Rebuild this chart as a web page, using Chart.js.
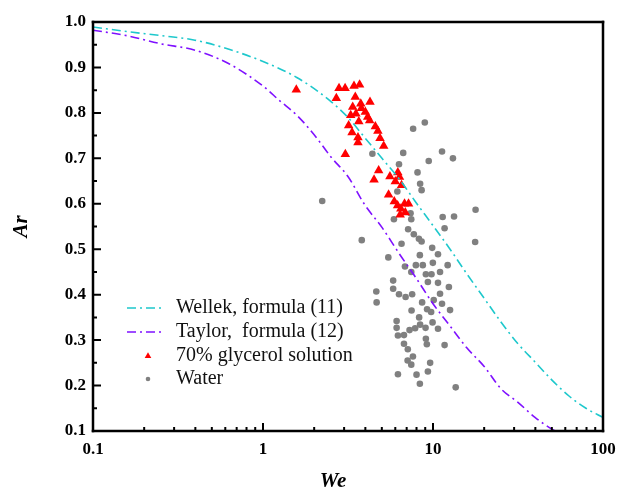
<!DOCTYPE html>
<html>
<head>
<meta charset="utf-8">
<script src="https://cdn.jsdelivr.net/npm/chart.js@4.4.1/dist/chart.umd.min.js"></script>
<style>
  html, body { margin: 0; padding: 0; background: #fff; overflow: hidden; }
  canvas { display: block; }
</style>
</head>
<body>
<canvas id="MyChart1" width="617" height="492"></canvas>
<script>
// tick labels
var xTicks = [0.1, 1, 10, 100];
var yTicks = [0.1, 0.2, 0.3, 0.4, 0.5, 0.6, 0.7, 0.8, 0.9, 1.0];

// Wellek, formula (11)
var wellekWe = [0.1, 0.158, 0.251, 0.398, 0.631, 1, 1.58, 2.51, 3.16, 3.98, 5.01, 6.31, 7.94, 10, 12.6, 15.8, 20.0, 25.1, 31.6, 39.8, 50.1, 63.1, 79.4, 100];
var wellekAr = [0.989, 0.979, 0.970, 0.960, 0.940, 0.913, 0.878, 0.825, 0.790, 0.745, 0.700, 0.655, 0.603, 0.552, 0.500, 0.446, 0.392, 0.340, 0.292, 0.252, 0.212, 0.177, 0.150, 0.130];

// Taylor, formula (12)
var taylorWe = [0.1, 0.158, 0.251, 0.398, 0.631, 1, 1.26, 1.58, 2.0, 2.51, 3.16, 3.98, 5.01, 6.31, 7.94, 10, 12.6, 15.8, 20.0, 25.1, 31.6, 39.8, 50.1, 52.5];
var taylorAr = [0.982, 0.970, 0.952, 0.938, 0.908, 0.859, 0.826, 0.795, 0.752, 0.703, 0.660, 0.597, 0.548, 0.491, 0.437, 0.380, 0.331, 0.283, 0.242, 0.193, 0.163, 0.130, 0.104, 0.100];

// 70% glycerol solution
var glycerolWe = [1.57, 2.70, 2.80, 3.04, 3.43, 3.70, 3.49, 4.26, 3.76, 3.37, 3.79, 4.00, 3.52, 3.28, 4.13, 3.66, 4.24, 3.19, 4.58, 3.34,
                  4.74, 3.62, 4.88, 3.62, 5.13, 3.05, 4.79, 4.50, 5.58, 6.21, 6.35, 6.00, 6.53, 5.48, 5.92, 6.19, 6.80, 7.18, 6.47, 6.87, 6.41];
var glycerolAr = [0.851, 0.832, 0.854, 0.854, 0.859, 0.862, 0.835, 0.824, 0.820, 0.813, 0.810, 0.802, 0.798, 0.795, 0.791, 0.781, 0.783, 0.772, 0.770, 0.757,
                  0.760, 0.746, 0.744, 0.735, 0.727, 0.709, 0.673, 0.653, 0.660, 0.669, 0.659, 0.649, 0.641, 0.620, 0.605, 0.596, 0.600, 0.600, 0.589, 0.581, 0.576];

// Water
var waterWe = [8.95, 7.64, 6.68, 4.40, 11.3, 13.1, 9.44, 6.31, 8.11, 8.40, 8.57, 6.17, 17.8, 11.4, 13.3, 5.89, 7.38, 7.45, 11.7, 7.14,
               7.71, 8.26, 8.57, 3.81, 6.53, 9.89, 17.7, 8.37, 10.7, 5.46, 6.84, 7.93, 8.71, 9.98, 12.2, 7.45, 9.08, 9.80, 11.0, 5.83,
               9.33, 10.7, 12.4, 4.64, 5.83, 6.31, 6.90, 7.54, 11.0, 4.66, 8.63, 10.1, 11.3, 7.48, 9.23, 9.75, 12.6, 6.11, 8.29, 9.94,
               6.11, 7.28, 7.85, 8.40, 9.04, 10.7, 6.22, 6.75, 9.08, 9.20, 6.75, 7.11, 11.7, 7.62, 7.09, 7.45, 9.62, 6.22, 8.00, 9.33,
               8.37, 13.6, 2.23];
var waterAr = [0.779, 0.765, 0.712, 0.710, 0.715, 0.700, 0.694, 0.687, 0.669, 0.644, 0.630, 0.627, 0.587, 0.571, 0.572, 0.566, 0.579, 0.566, 0.546, 0.544,
               0.533, 0.523, 0.517, 0.520, 0.512, 0.503, 0.516, 0.487, 0.489, 0.482, 0.462, 0.465, 0.465, 0.470, 0.465, 0.450, 0.445, 0.445, 0.450, 0.431,
               0.428, 0.426, 0.417, 0.407, 0.413, 0.401, 0.395, 0.401, 0.402, 0.383, 0.383, 0.388, 0.380, 0.365, 0.368, 0.362, 0.366, 0.342, 0.350, 0.339,
               0.327, 0.322, 0.326, 0.334, 0.327, 0.325, 0.310, 0.311, 0.303, 0.291, 0.292, 0.280, 0.289, 0.264, 0.255, 0.246, 0.250, 0.225, 0.224, 0.231,
               0.204, 0.196, 0.606];

function pairs(xs, ys) {
  return xs.map(function (x, i) { return { x: x, y: ys[i] }; });
}

var cyan   = '#1ec8cc',
    purple = '#7f10ff',
    red    = '#ff0000',
    gray   = '#808080';
var serif = '"Liberation Serif", "Times New Roman", serif';
var dash = [9, 4, 2, 4];

// box, inward ticks, x title and legend
var framePlugin = {
  id: 'frame',
  afterDraw: function (chart) {
    var ctx = chart.ctx, a = chart.chartArea;
    var xs = chart.scales.x, ys = chart.scales.y;
    ctx.save();
    ctx.setLineDash([]);
    ctx.fillStyle = '#000';
    var w = 2.5, h = w / 2;
    ctx.fillRect(a.left - h, a.top - h, a.right - a.left + w, w);
    ctx.fillRect(a.left - h, a.bottom - h, a.right - a.left + w, w);
    ctx.fillRect(a.left - h, a.top - h, w, a.bottom - a.top + w);
    ctx.fillRect(a.right - h, a.top - h, w, a.bottom - a.top + w);

    ctx.strokeStyle = '#000';
    ctx.lineWidth = 2;
    ctx.beginPath();
    for (var n = -1; n <= 1; n++) {
      for (var k = 1; k <= 9; k++) {
        var px = xs.getPixelForValue(k * Math.pow(10, n));
        var len = k === 1 ? 8 : 4;
        ctx.moveTo(px, a.bottom);
        ctx.lineTo(px, a.bottom - len);
      }
    }
    for (var j = 0; j <= 18; j++) {
      var py = ys.getPixelForValue(0.1 + j * 0.05);
      ctx.moveTo(a.left, py);
      ctx.lineTo(a.left + (j % 2 === 0 ? 8 : 4), py);
    }
    ctx.stroke();

    // x axis title
    ctx.fillStyle = '#000';
    ctx.font = 'italic bold 21px ' + serif;
    ctx.textAlign = 'center';
    ctx.textBaseline = 'middle';
    ctx.fillText('We', a.left + 240, 482);

    // legend
    var lx = a.left + 34, tx = a.left + 83;
    var rows = [a.top + 286, a.top + 310, a.top + 334, a.top + 357];
    ctx.lineWidth = 1.6;
    ctx.setLineDash(dash);
    ctx.strokeStyle = cyan;
    ctx.beginPath(); ctx.moveTo(lx, rows[0]); ctx.lineTo(lx + 38, rows[0]); ctx.stroke();
    ctx.strokeStyle = purple;
    ctx.beginPath(); ctx.moveTo(lx, rows[1]); ctx.lineTo(lx + 38, rows[1]); ctx.stroke();
    ctx.setLineDash([]);
    ctx.fillStyle = red;
    var cx = lx + 21, r = 3.8;
    ctx.beginPath();
    ctx.moveTo(cx, rows[2] - r);
    ctx.lineTo(cx + r * 0.87, rows[2] + r * 0.5);
    ctx.lineTo(cx - r * 0.87, rows[2] + r * 0.5);
    ctx.closePath(); ctx.fill();
    ctx.fillStyle = gray;
    ctx.beginPath(); ctx.arc(cx, rows[3], 2.3, 0, Math.PI * 2); ctx.fill();

    ctx.fillStyle = '#111';
    ctx.font = '20px ' + serif;
    ctx.textAlign = 'left';
    var names = ['Wellek, formula (11)', 'Taylor,  formula (12)', '70% glycerol solution', 'Water'];
    for (var i = 0; i < names.length; i++) {
      ctx.fillText(names[i], tx, rows[i]);
    }
    ctx.restore();
  }
};

var chart = document.getElementById('MyChart1').getContext('2d');

var chartInstance = new Chart(chart, {
  type: 'scatter',
  data: {
    datasets: [{
      label: 'Wellek, formula (11)',
      type: 'line',
      data: pairs(wellekWe, wellekAr),
      borderColor: cyan,
      borderWidth: 1.6,
      borderDash: dash,
      pointRadius: 0,
      cubicInterpolationMode: 'monotone',
      fill: false
    }, {
      label: 'Taylor,  formula (12)',
      type: 'line',
      data: pairs(taylorWe, taylorAr),
      borderColor: purple,
      borderWidth: 1.6,
      borderDash: dash,
      pointRadius: 0,
      cubicInterpolationMode: 'monotone',
      fill: false
    }, {
      label: '70% glycerol solution',
      data: pairs(glycerolWe, glycerolAr),
      pointStyle: 'triangle',
      pointRadius: 5.5,
      pointBackgroundColor: red,
      pointBorderWidth: 0,
      borderColor: red
    }, {
      label: 'Water',
      data: pairs(waterWe, waterAr),
      pointStyle: 'circle',
      pointRadius: 3.3,
      pointBackgroundColor: gray,
      pointBorderWidth: 0,
      borderColor: gray
    }]
  },
  options: {
    responsive: false,
    animation: false,
    layout: { padding: { left: 0, right: 14, top: 22, bottom: 0 } },
    plugins: {
      legend: { display: false },
      tooltip: { enabled: false }
    },
    scales: {
      x: {
        type: 'logarithmic',
        min: 0.1,
        max: 100,
        afterBuildTicks: function (s) { s.ticks = xTicks.map(function (v) { return { value: v }; }); },
        afterFit: function (s) { s.height = 61; s.paddingLeft = 0; s.paddingRight = 0; },
        grid: { display: false, drawTicks: false },
        border: { display: false },
        ticks: {
          autoSkip: false,
          maxRotation: 0,
          padding: 8,
          color: '#000',
          font: { family: serif, size: 17, weight: 'bold' },
          callback: function (v) { return String(v); }
        }
      },
      y: {
        min: 0.1,
        max: 1.0,
        afterBuildTicks: function (s) { s.ticks = yTicks.map(function (v) { return { value: v }; }); },
        afterFit: function (s) { s.width = 93; s.paddingTop = 0; s.paddingBottom = 0; },
        grid: { display: false, drawTicks: false },
        border: { display: false },
        ticks: {
          padding: 7,
          color: '#000',
          font: { family: serif, size: 17, weight: 'bold' },
          callback: function (v) { return Number(v).toFixed(1); }
        },
        title: {
          display: true,
          text: 'Ar',
          color: '#000',
          padding: { top: 9, bottom: 0 },
          font: { family: serif, size: 21, weight: 'bold', style: 'italic' }
        }
      }
    }
  },
  plugins: [framePlugin]
});
</script>
</body>
</html>
